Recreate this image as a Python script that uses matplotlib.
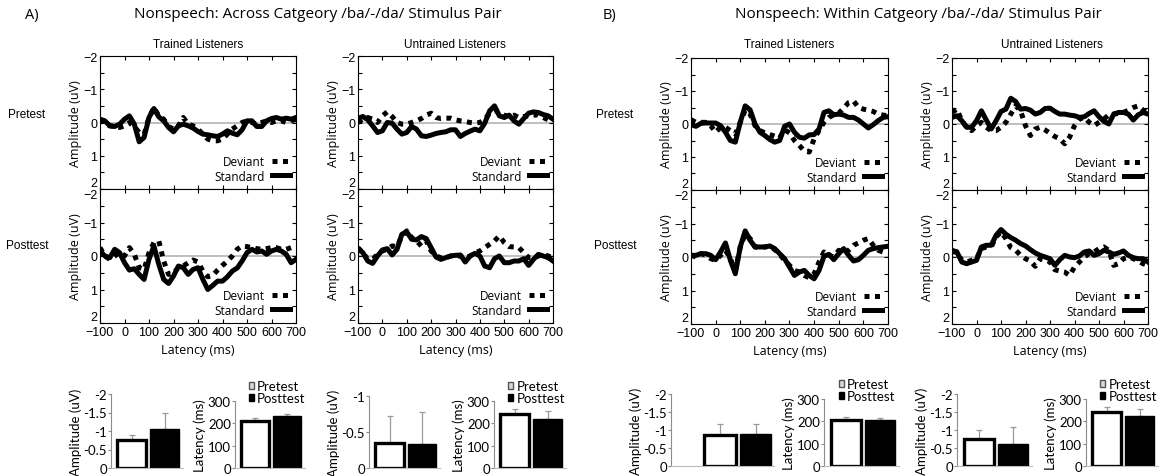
import matplotlib
matplotlib.use("Agg")
import matplotlib.pyplot as plt
from matplotlib import font_manager
from matplotlib.ticker import MultipleLocator

W, H = 1166, 477

installed = {f.name for f in font_manager.fontManager.ttflist}
NARROW = "Liberation Sans Narrow" if "Liberation Sans Narrow" in installed else "Liberation Sans"
LABEL = "Open Sans"
BARFONT = "Lato"

# latency axis of the ERP panels (ms)
t_ms = list(range(-100, 701, 20))

# ERP amplitudes (uV), 20 ms steps
a_tr_pre_std = [-0.10, -0.05, 0.10, 0.12, 0.05, -0.10, -0.20, 0.05, 0.58, 0.45,
                -0.15, -0.42, -0.17, -0.05, 0.15, 0.28, 0.10, 0.05, 0.10, 0.17,
                0.27, 0.35, 0.37, 0.40, 0.42, 0.35, 0.25, 0.32, 0.37, 0.22,
                -0.05, -0.05, 0.12, 0.12, -0.05, -0.12, -0.15, -0.10, -0.13, -0.10,
                -0.15]
a_tr_pre_dev = [-0.10, 0.05, 0.10, 0.12, 0.15, 0.10, 0.00, 0.12, 0.30, 0.35,
                -0.15, -0.45, -0.20, -0.10, 0.12, 0.20, 0.10, -0.15, 0.05, 0.10,
                0.20, 0.35, 0.50, 0.55, 0.55, 0.50, 0.35, 0.20, 0.10, 0.00,
                -0.05, 0.00, 0.05, 0.00, -0.05, 0.00, -0.05, -0.05, 0.00, -0.05,
                -0.10]
a_tr_post_std = [-0.15, 0.00, 0.05, -0.20, -0.10, 0.20, 0.42, 0.38, 0.55, 0.70,
                 0.10, -0.30, 0.25, 0.70, 0.82, 0.60, 0.30, 0.35, 0.55, 0.40,
                 0.35, 0.70, 1.00, 0.88, 0.75, 0.75, 0.62, 0.45, 0.36, 0.15,
                 -0.10, -0.20, -0.12, -0.15, -0.05, -0.15, -0.20, -0.15, -0.05, 0.20,
                 0.10]
a_tr_post_dev = [-0.25, 0.00, 0.10, 0.00, -0.10, 0.00, -0.25, -0.05, 0.35, 0.40,
                 -0.10, -0.40, -0.45, 0.15, 0.55, 0.50, 0.35, 0.30, 0.20, 0.12,
                 0.18, 0.45, 0.62, 0.58, 0.42, 0.28, 0.15, 0.00, -0.20, -0.30,
                 -0.28, -0.25, -0.22, -0.20, -0.22, -0.25, -0.25, -0.20, -0.20, -0.25,
                 -0.30]
a_un_pre_std = [-0.13, -0.18, -0.08, 0.10, 0.30, 0.25, 0.00, 0.02, 0.20, 0.35,
                0.30, 0.12, 0.20, 0.40, 0.42, 0.38, 0.33, 0.30, 0.28, 0.22,
                0.22, 0.42, 0.33, 0.26, 0.20, 0.25, 0.02, -0.35, -0.50, -0.20,
                -0.15, -0.22, -0.05, 0.05, -0.12, -0.28, -0.32, -0.30, -0.24, -0.20,
                -0.10]
a_un_pre_dev = [0.00, -0.10, -0.15, -0.10, 0.00, -0.20, -0.32, -0.18, 0.00, 0.05,
                0.05, 0.00, -0.05, -0.12, -0.22, -0.28, -0.15, -0.12, -0.13, -0.13,
                -0.08, -0.05, -0.03, 0.00, 0.02, 0.00, -0.10, -0.28, -0.35, -0.33,
                -0.22, -0.18, -0.22, -0.15, -0.18, -0.20, -0.22, -0.23, -0.15, -0.08,
                -0.03]
a_un_post_std = [-0.20, -0.10, 0.15, 0.22, 0.00, -0.18, -0.22, -0.03, -0.20, -0.65,
                 -0.72, -0.50, -0.48, -0.58, -0.52, -0.25, 0.03, 0.10, 0.05, 0.00,
                 -0.02, -0.03, 0.18, 0.00, -0.08, 0.00, 0.30, 0.35, 0.08, 0.00,
                 0.20, 0.20, 0.15, 0.15, 0.08, 0.28, 0.10, -0.05, 0.00, 0.05,
                 0.15]
a_un_post_dev = [-0.25, -0.10, 0.10, 0.10, -0.05, -0.15, -0.20, -0.30, -0.28, -0.60,
                 -0.75, -0.55, -0.45, -0.30, -0.45, -0.15, 0.00, 0.05, 0.05, 0.00,
                 0.00, 0.00, 0.05, 0.00, -0.10, -0.15, -0.25, -0.35, -0.45, -0.60,
                 -0.40, -0.28, -0.27, -0.25, -0.10, 0.05, 0.05, 0.00, -0.05, 0.00,
                 0.05]
b_tr_pre_std = [0.02, 0.07, -0.02, -0.03, -0.03, -0.03, 0.05, 0.25, 0.50, 0.55,
                -0.05, -0.55, -0.43, 0.00, 0.25, 0.35, 0.47, 0.55, 0.50, 0.07,
                0.00, 0.25, 0.40, 0.43, 0.33, 0.32, 0.15, -0.35, -0.40, -0.28,
                -0.30, -0.27, -0.20, -0.20, -0.12, 0.00, 0.12, 0.02, -0.10, -0.20,
                -0.22]
b_tr_pre_dev = [-0.13, -0.05, -0.05, -0.05, 0.05, 0.25, 0.10, 0.10, 0.20, 0.30,
                -0.05, -0.42, -0.30, 0.05, 0.20, 0.27, 0.32, 0.37, 0.42, 0.17,
                0.27, 0.50, 0.65, 0.82, 0.85, 0.45, 0.20, -0.05, -0.20, -0.28,
                -0.33, -0.48, -0.65, -0.70, -0.50, -0.45, -0.42, -0.38, -0.30, -0.27,
                -0.25]
b_tr_post_std = [-0.05, -0.05, -0.10, -0.10, -0.05, 0.08, -0.15, -0.42, 0.10, 0.50,
                 -0.30, -0.78, -0.50, -0.30, -0.30, -0.30, -0.33, -0.25, -0.10, 0.05,
                 0.30, 0.55, 0.45, 0.40, 0.55, 0.65, 0.40, -0.02, -0.08, 0.08,
                 -0.10, -0.25, -0.05, 0.12, 0.08, -0.05, -0.20, -0.25, -0.28, -0.30,
                 -0.32]
b_tr_post_dev = [-0.05, 0.00, -0.10, -0.05, 0.05, 0.10, -0.05, -0.20, 0.05, 0.40,
                 -0.30, -0.68, -0.55, -0.30, -0.28, -0.30, -0.32, -0.22, -0.08, 0.10,
                 0.25, 0.40, 0.45, 0.55, 0.62, 0.50, 0.15, -0.15, -0.05, 0.00,
                 -0.20, -0.12, -0.20, -0.35, -0.42, -0.50, -0.55, -0.35, -0.20, -0.15,
                 -0.12]
b_un_pre_std = [-0.20, -0.25, -0.10, 0.10, 0.10, -0.10, -0.40, -0.12, 0.15, -0.10,
                -0.38, -0.45, -0.78, -0.68, -0.45, -0.47, -0.42, -0.30, -0.35, -0.47,
                -0.48, -0.38, -0.30, -0.30, -0.27, -0.25, -0.20, -0.22, -0.32, -0.40,
                -0.22, -0.08, 0.00, -0.30, -0.35, -0.35, -0.30, -0.12, -0.28, -0.35,
                -0.30]
b_un_pre_dev = [-0.35, -0.45, -0.10, 0.10, 0.20, 0.05, -0.05, 0.10, 0.20, 0.20,
                0.10, -0.05, -0.30, -0.55, -0.40, 0.05, 0.35, 0.15, 0.10, 0.18,
                0.28, 0.38, 0.45, 0.60, 0.40, 0.05, -0.15, -0.20, -0.05, 0.05,
                -0.05, -0.15, -0.28, -0.30, -0.32, -0.35, -0.42, -0.50, -0.55, -0.42,
                -0.35]
b_un_post_std = [-0.20, -0.15, 0.15, 0.20, 0.15, 0.10, -0.30, -0.35, -0.35, -0.65,
                 -0.82, -0.68, -0.58, -0.50, -0.40, -0.33, -0.22, -0.12, -0.05, 0.00,
                 0.05, 0.25, 0.08, -0.05, 0.00, 0.02, -0.03, -0.15, -0.18, -0.05,
                 -0.10, -0.20, -0.15, -0.08, -0.12, -0.18, -0.05, 0.02, 0.05, 0.05,
                 0.15]
b_un_post_dev = [-0.15, -0.15, 0.10, 0.15, 0.10, 0.05, -0.25, -0.30, -0.30, -0.60,
                 -0.75, -0.55, -0.28, -0.20, -0.05, 0.05, 0.12, 0.28, 0.05, 0.08,
                 0.15, 0.38, 0.42, 0.45, 0.55, 0.30, 0.15, 0.00, -0.10, -0.15,
                 -0.25, -0.30, -0.20, 0.25, 0.20, 0.05, 0.00, 0.05, 0.12, 0.20,
                 0.25]

# bar charts: [pretest, posttest] and error (towards the axis top)
groups = ["Pretest", "Posttest"]
a_tr_amp, a_tr_amp_err = [-0.75, -1.05], [0.15, 0.45]
a_tr_lat, a_tr_lat_err = [210, 235], [15, 5]
a_un_amp, a_un_amp_err = [-0.35, -0.33], [0.37, 0.45]
a_un_lat, a_un_lat_err = [240, 218], [22, 35]
b_tr_amp, b_tr_amp_err = [-0.85, -0.90], [0.33, 0.27]
b_tr_lat, b_tr_lat_err = [205, 205], [15, 10]
b_un_amp, b_un_amp_err = [-0.75, -0.60], [0.25, 0.47]
b_un_lat, b_un_lat_err = [240, 225], [22, 28]

wave_yticks = [-2, -1, 0, 1, 2]
amp_ticks_2 = [0, -0.5, -1, -1.5, -2]
amp_labels_2 = ["0", "-0.5", "-1", "-1.5", "-2"]
amp_ticks_1 = [0, -0.5, -1]
amp_labels_1 = ["0", "-0.5", "-1"]
lat_ticks = [0, 100, 200, 300]
lat_labels = ["0", "100", "200", "300"]


fig = plt.figure(figsize=(W / 100, H / 100), dpi=100)


def px_axes(x0, y0, x1, y1):
    return fig.add_axes([x0 / W, 1 - y1 / H, (x1 - x0) / W, (y1 - y0) / H])


def px_text(x, y, s, **kw):
    fig.text(x / W, 1 - y / H, s, ha="center", va="center", **kw)


def wave(x0, x1, y0, y1, std, dev, bottom):
    ax = px_axes(x0, y0, x1, y1)
    ax.axhline(0, color="#b4b4b4", lw=1.2, zorder=1)
    ax.plot(t_ms, dev, color="black", lw=3.6, ls=(0, (1, 1.1)), label="Deviant", zorder=3)
    ax.plot(t_ms, std, color="black", lw=3.6, label="Standard", zorder=2)
    ax.set_xlim(-100, 700)
    ax.set_ylim(2, -2)
    ax.xaxis.set_major_locator(MultipleLocator(100))
    ax.set_yticks(wave_yticks)
    ax.yaxis.set_minor_locator(MultipleLocator(0.5))
    ax.tick_params(which="both", direction="in", top=True, right=True, length=3, width=0.8,
                   labelsize=9, pad=2)
    for lab in ax.get_xticklabels() + ax.get_yticklabels():
        lab.set_fontfamily(NARROW)
    ylabs = ax.get_yticklabels()
    ylabs[-1].set_verticalalignment("bottom")
    if not bottom:
        ax.tick_params(labelbottom=False)
    else:
        ax.set_xlabel("Latency (ms)", fontsize=9, fontfamily=LABEL, labelpad=4)
        ylabs[0].set_verticalalignment("top")
    ax.set_ylabel("Amplitude (uV)", fontsize=9, fontfamily=LABEL, labelpad=1)
    ax.legend(loc="lower right", frameon=False, markerfirst=False, handlelength=1.5,
              handletextpad=0.6, labelspacing=0.1, borderaxespad=0.15,
              prop={"family": LABEL, "size": 8.5})
    return ax


def bars(x0, x1, y0, y1, vals, errs, amp, ticks, labels, xlim=(-0.63, 1.55), legend=False):
    ax = px_axes(x0, y0, x1, y1)
    ax.bar([0], vals[0], width=0.88, color="white", edgecolor="black", linewidth=2.4,
           label=groups[0], zorder=2)
    ax.bar([1], vals[1], width=0.88, color="black", edgecolor="black", linewidth=1,
           label=groups[1], zorder=2)
    if amp:
        yerr = [errs, [0, 0]]
    else:
        yerr = [[0, 0], errs]
    ax.errorbar([0, 1], vals, yerr=yerr, fmt="none", ecolor="#9a9a9a", elinewidth=0.9,
                capsize=2, capthick=0.9, zorder=1)
    ax.set_xlim(*xlim)
    ax.set_ylim(0, ticks[-1])
    ax.set_yticks(ticks)
    ax.set_yticklabels(labels, fontfamily=BARFONT, fontsize=9.5)
    ax.set_xticks([])
    for s in ["top", "right"]:
        ax.spines[s].set_visible(False)
    ax.spines["left"].set_color("#8c8c8c")
    ax.spines["bottom"].set_color("#bdbdbd")
    ax.tick_params(axis="y", length=2, color="#8c8c8c", pad=1)
    ax.set_ylabel("Amplitude (uV)" if amp else "Latency (ms)", fontfamily=BARFONT,
                  fontsize=9.5, labelpad=1)
    if legend:
        leg = ax.legend(loc="lower left", bbox_to_anchor=(0.2, 0.95), frameon=False,
                        handlelength=0.35, handleheight=0.35, handletextpad=0.25,
                        labelspacing=0.0, borderaxespad=0, borderpad=0,
                        prop={"family": BARFONT, "size": 9.5})
        leg.legend_handles[0].set_linewidth(1.0)
        leg.legend_handles[0].set_facecolor("#d9d9d9")
        leg.legend_handles[0].set_edgecolor("#555555")
    return ax


# titles and row/column labels
px_text(32, 15, "A)", fontsize=10.5, fontfamily=LABEL)
px_text(318, 15, "Nonspeech: Across Catgeory /ba/-/da/ Stimulus Pair", fontsize=11, fontfamily=LABEL)
px_text(610, 15, "B)", fontsize=10.5, fontfamily=LABEL)
px_text(918, 15, "Nonspeech: Within Catgeory /ba/-/da/ Stimulus Pair", fontsize=11, fontfamily=LABEL)

px_text(198, 45, "Trained Listeners", fontsize=8.5, fontfamily=NARROW)
px_text(455, 45, "Untrained Listeners", fontsize=8.5, fontfamily=NARROW)
px_text(789, 45, "Trained Listeners", fontsize=8.5, fontfamily=NARROW)
px_text(1052, 45, "Untrained Listeners", fontsize=8.5, fontfamily=NARROW)
px_text(27, 115, "Pretest", fontsize=8.5, fontfamily=NARROW)
px_text(27, 246, "Posttest", fontsize=8.5, fontfamily=NARROW)
px_text(615, 115, "Pretest", fontsize=8.5, fontfamily=NARROW)
px_text(615, 246, "Posttest", fontsize=8.5, fontfamily=NARROW)

# ERP panels
wave(100, 296, 57, 190, a_tr_pre_std, a_tr_pre_dev, False)
wave(100, 296, 190, 324, a_tr_post_std, a_tr_post_dev, True)
wave(358, 553, 57, 190, a_un_pre_std, a_un_pre_dev, False)
wave(358, 553, 190, 324, a_un_post_std, a_un_post_dev, True)
wave(691, 888, 59, 191, b_tr_pre_std, b_tr_pre_dev, False)
wave(691, 888, 191, 325, b_tr_post_std, b_tr_post_dev, True)
wave(952, 1148, 59, 191, b_un_pre_std, b_un_pre_dev, False)
wave(952, 1148, 191, 325, b_un_post_std, b_un_post_dev, True)

# bar charts
bars(111, 183, 395, 469, a_tr_amp, a_tr_amp_err, True, amp_ticks_2, amp_labels_2)
bars(235, 305, 402, 469, a_tr_lat, a_tr_lat_err, False, lat_ticks, lat_labels, legend=True)
bars(369, 440, 397, 469, a_un_amp, a_un_amp_err, True, amp_ticks_1, amp_labels_1)
bars(494, 566, 402, 469, a_un_lat, a_un_lat_err, False, lat_ticks, lat_labels, legend=True)
bars(671, 774, 395, 467, b_tr_amp, b_tr_amp_err, True, amp_ticks_2, amp_labels_2, xlim=(-1.38, 1.52))
bars(824, 899, 400, 467, b_tr_lat, b_tr_lat_err, False, lat_ticks, lat_labels, legend=True)
bars(957, 1032, 395, 467, b_un_amp, b_un_amp_err, True, amp_ticks_2, amp_labels_2)
bars(1086, 1158, 400, 467, b_un_lat, b_un_lat_err, False, lat_ticks, lat_labels, legend=True)

fig.savefig("out.png", dpi=100)
